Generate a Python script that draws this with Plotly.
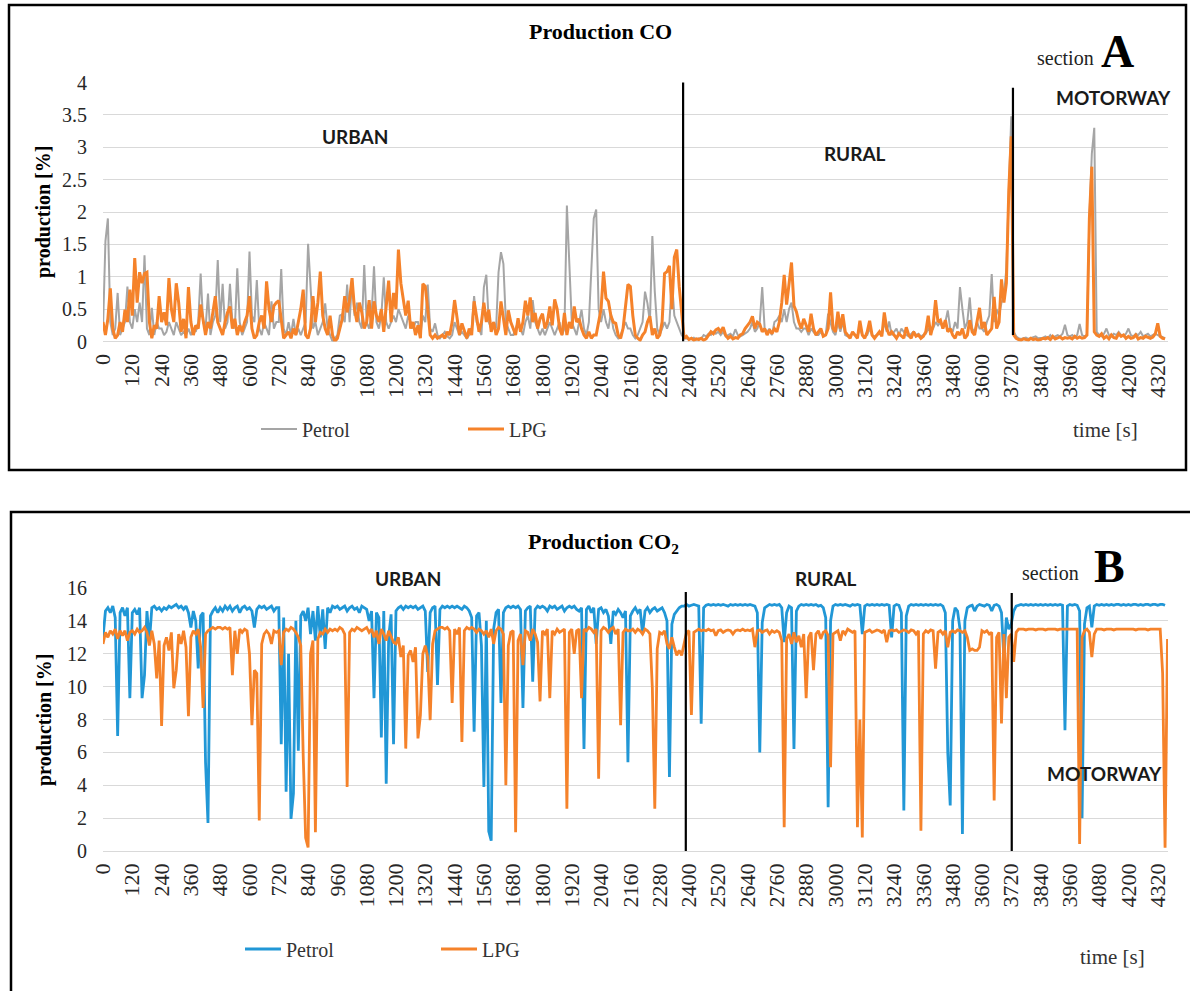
import plotly.graph_objects as go

step_s = 10

co_petrol = [
    0.2, 1.55, 1.9, 0.3, 0.1, 0.2, 0.75, 0.1, 0.2, 0.3, 0.85, 0.3,
    0.2, 0.5, 0.3, 0.6, 0.3, 1.33, 0.2, 0.1, 0.52, 0.1, 0.3, 0.2,
    0.2, 0.1, 0.15, 0.3, 0.2, 0.1, 0.3, 0.2, 0.1, 0.15, 0.1, 0.2,
    0.1, 0.2, 0.15, 0.3, 1.05, 0.3, 0.2, 0.74, 0.1, 0.3, 0.4, 1.26,
    0.3, 0.89, 0.2, 0.3, 0.89, 0.3, 0.2, 1.13, 0.3, 0.1, 0.2, 0.3,
    1.39, 0.4, 0.3, 0.95, 0.2, 0.1, 0.3, 0.2, 0.1, 0.62, 0.2, 0.3,
    0.3, 1.12, 0.2, 0.1, 0.3, 0.1, 0.35, 0.1, 0.2, 0.1, 0.2, 0.3,
    1.51, 0.91, 0.2, 0.3, 0.1, 0.2, 0.3, 0.59, 0.2, 0.1, 0.0, 0.05,
    0.1, 0.4, 0.42, 0.3, 0.88, 0.3, 0.98, 0.4, 0.6, 0.3, 0.2, 1.18,
    0.3, 0.2, 0.4, 1.16, 0.3, 0.2, 0.4, 0.99, 0.3, 0.2, 0.3, 0.4,
    0.3, 0.5, 0.4, 0.3, 0.2, 0.4, 0.3, 0.2, 0.3, 0.3, 0.1, 0.4,
    0.3, 0.88, 0.2, 0.15, 0.28, 0.1, 0.05, 0.1, 0.15, 0.08, 0.05, 0.1,
    0.3, 0.2, 0.1, 0.15, 0.1, 0.05, 0.1, 0.2, 0.7, 0.3, 0.2, 0.1,
    0.84, 1.03, 0.3, 0.2, 0.3, 0.2, 1.07, 1.38, 1.2, 0.3, 0.2, 0.1,
    0.1, 0.2, 0.3, 0.2, 0.1, 0.3, 0.4, 0.2, 0.64, 0.3, 0.2, 0.1,
    0.2, 0.1, 0.2, 0.3, 0.2, 0.1, 0.2, 0.3, 0.1, 0.2, 2.1, 1.08,
    0.3, 0.2, 0.1, 0.3, 0.49, 0.2, 0.1, 0.3, 1.03, 1.9, 2.04, 0.5,
    0.3, 0.5, 0.3, 0.2, 0.44, 0.2, 0.1, 0.05, 0.1, 0.2, 0.3, 0.2,
    0.2, 0.1, 0.05, 0.1, 0.2, 0.3, 0.77, 0.59, 0.3, 1.63, 0.77, 0.2,
    0.1, 0.2, 0.3, 0.2, 0.3, 0.95, 0.4, 0.3, 0.2, 0.1, 0.05, 0.05,
    0.05, 0.04, 0.06, 0.03, 0.05, 0.04, 0.1, 0.08, 0.12, 0.1, 0.15, 0.12,
    0.15, 0.1, 0.15, 0.08, 0.1, 0.12, 0.08, 0.19, 0.1, 0.08, 0.1, 0.12,
    0.15, 0.2, 0.3, 0.15, 0.2, 0.3, 0.84, 0.2, 0.15, 0.2, 0.1, 0.3,
    0.33, 0.4, 0.3, 0.5, 0.3, 0.5, 0.6, 0.3, 0.2, 0.2, 0.15, 0.2,
    0.2, 0.1, 0.2, 0.15, 0.1, 0.1, 0.15, 0.1, 0.1, 0.43, 0.3, 0.15,
    0.1, 0.3, 0.15, 0.3, 0.1, 0.08, 0.1, 0.12, 0.1, 0.08, 0.2, 0.1,
    0.08, 0.1, 0.2, 0.1, 0.08, 0.1, 0.12, 0.1, 0.3, 0.15, 0.31, 0.1,
    0.15, 0.2, 0.1, 0.2, 0.15, 0.1, 0.08, 0.12, 0.15, 0.1, 0.12, 0.08,
    0.1, 0.12, 0.2, 0.15, 0.2, 0.3, 0.25, 0.3, 0.2, 0.3, 0.48, 0.2,
    0.15, 0.3, 0.2, 0.84, 0.5, 0.2, 0.3, 0.68, 0.2, 0.15, 0.3, 0.2,
    0.2, 0.15, 0.3, 0.4, 1.04, 0.3, 0.5, 0.4, 0.6, 0.7, 1.13, 2.5,
    3.48, 0.15, 0.08, 0.05, 0.04, 0.05, 0.06, 0.04, 0.05, 0.06, 0.08, 0.05,
    0.05, 0.06, 0.08, 0.05, 0.1, 0.06, 0.08, 0.1, 0.08, 0.12, 0.26, 0.1,
    0.08, 0.1, 0.06, 0.1, 0.27, 0.1, 0.08, 0.1, 1.9, 2.9, 3.3, 0.15,
    0.1, 0.08, 0.12, 0.2, 0.1, 0.08, 0.12, 0.1, 0.15, 0.1, 0.08, 0.12,
    0.2, 0.1, 0.08, 0.12, 0.1, 0.15, 0.08, 0.1, 0.12, 0.08, 0.1, 0.12,
    0.1, 0.08, 0.06, 0.05,
]

co_lpg = [
    0.3, 0.1, 0.35, 0.82, 0.2, 0.05, 0.1, 0.3, 0.15, 0.49, 0.3, 0.8,
    0.4, 1.29, 0.6, 1.07, 0.9, 1.05, 1.07, 0.3, 0.05, 0.25, 0.2, 0.7,
    0.3, 0.45, 0.25, 0.98, 0.5, 0.3, 0.9, 0.6, 0.15, 0.35, 0.05, 0.84,
    0.3, 0.1, 0.25, 0.2, 0.57, 0.35, 0.1, 0.3, 0.2, 0.45, 0.7, 0.3,
    0.2, 0.1, 0.3, 0.45, 0.54, 0.2, 0.35, 0.1, 0.25, 0.15, 0.3, 0.4,
    0.7, 0.2, 0.05, 0.1, 0.3, 0.4, 0.2, 0.93, 0.5, 0.3, 0.55, 0.6,
    0.63, 0.3, 0.05, 0.1, 0.15, 0.05, 0.2, 0.1, 0.3, 0.5, 0.8, 0.1,
    0.05, 0.2, 0.7, 0.3, 0.6, 1.08, 0.4, 0.2, 0.1, 0.4, 0.1, 0.0,
    0.05, 0.2, 0.35, 0.7, 0.45, 0.65, 0.98, 0.5, 0.3, 0.6, 0.45, 0.2,
    0.3, 0.64, 0.2, 0.62, 0.4, 0.3, 0.5, 0.15, 0.6, 0.94, 0.3, 0.75,
    0.5, 1.42, 0.9, 0.68, 0.4, 0.63, 0.2, 0.3, 0.1, 0.25, 0.05, 0.89,
    0.85, 0.5, 0.1, 0.05, 0.1, 0.05, 0.08, 0.1, 0.05, 0.15, 0.1, 0.3,
    0.64, 0.4, 0.1, 0.28, 0.15, 0.05, 0.2, 0.1, 0.62, 0.35, 0.15, 0.3,
    0.6, 0.3, 0.49, 0.15, 0.3, 0.1, 0.2, 0.62, 0.35, 0.1, 0.48, 0.3,
    0.2, 0.1, 0.36, 0.15, 0.3, 0.63, 0.4, 0.68, 0.3, 0.44, 0.2, 0.35,
    0.43, 0.2, 0.3, 0.54, 0.25, 0.65, 0.5, 0.2, 0.1, 0.44, 0.1, 0.3,
    0.2, 0.54, 0.3, 0.35, 0.2, 0.1, 0.05, 0.15, 0.05, 0.1, 0.1, 0.3,
    0.5, 1.08, 0.67, 0.62, 0.4, 0.3, 0.28, 0.1, 0.05, 0.2, 0.6, 0.88,
    0.85, 0.4, 0.1, 0.05, 0.02, 0.1, 0.15, 0.3, 0.39, 0.1, 0.2, 0.05,
    0.1, 0.3, 1.05, 1.08, 1.17, 0.5, 1.3, 1.42, 0.85, 0.5, 0.05, 0.08,
    0.03, 0.05, 0.02, 0.04, 0.03, 0.05, 0.02, 0.04, 0.1, 0.15, 0.12, 0.18,
    0.2, 0.15, 0.22, 0.1, 0.05, 0.08, 0.04, 0.06, 0.05, 0.1, 0.12, 0.2,
    0.25, 0.3, 0.39, 0.2, 0.3, 0.27, 0.15, 0.2, 0.1, 0.18, 0.12, 0.2,
    0.15, 0.3, 0.6, 1.03, 0.57, 0.94, 1.22, 0.55, 0.46, 0.3, 0.2, 0.35,
    0.25, 0.15, 0.43, 0.2, 0.1, 0.15, 0.2, 0.08, 0.1, 0.2, 0.76, 0.2,
    0.15, 0.46, 0.2, 0.42, 0.15, 0.1, 0.05, 0.15, 0.1, 0.05, 0.32, 0.1,
    0.05, 0.15, 0.32, 0.1, 0.05, 0.1, 0.15, 0.08, 0.45, 0.2, 0.1, 0.15,
    0.1, 0.05, 0.12, 0.08, 0.05, 0.22, 0.1, 0.05, 0.15, 0.08, 0.1, 0.05,
    0.08, 0.15, 0.4, 0.1, 0.25, 0.64, 0.3, 0.33, 0.2, 0.33, 0.15, 0.2,
    0.1, 0.05, 0.15, 0.1, 0.2, 0.05, 0.1, 0.33, 0.15, 0.1, 0.3, 0.52,
    0.2, 0.3, 0.1, 0.15, 0.2, 0.69, 0.2, 0.3, 0.96, 0.6, 0.9, 2.34,
    3.17, 0.1, 0.05, 0.03, 0.02, 0.04, 0.03, 0.02, 0.05, 0.03, 0.04, 0.02,
    0.03, 0.05, 0.04, 0.06, 0.03, 0.08, 0.04, 0.05, 0.07, 0.04, 0.06, 0.05,
    0.06, 0.04, 0.08, 0.05, 0.07, 0.05, 0.06, 0.1, 1.9, 2.7, 0.15, 0.1,
    0.08, 0.12, 0.05, 0.08, 0.04, 0.1, 0.06, 0.05, 0.12, 0.08, 0.1, 0.05,
    0.08, 0.05, 0.06, 0.1, 0.04, 0.06, 0.05, 0.08, 0.06, 0.05, 0.07, 0.12,
    0.28, 0.08, 0.05, 0.04,
]

co2_petrol = [
    13.0, 14.6, 14.8, 14.5, 14.9, 14.2, 7.0, 14.5, 14.8, 14.3, 14.8, 9.3,
    14.5, 14.7, 14.4, 14.8, 9.3, 10.7, 14.6, 12.7, 14.8, 14.9, 14.7, 14.8,
    14.6, 14.8, 14.7, 14.9, 14.8, 14.9, 15.0, 14.8, 14.9, 14.7, 14.9, 14.5,
    13.6, 14.6, 14.0, 11.1, 14.3, 14.5, 5.4, 1.7, 14.3, 14.6, 14.8, 14.5,
    14.8, 14.6, 14.9, 14.7, 14.9, 14.6, 14.8, 14.9, 14.5, 14.8, 14.9, 14.7,
    14.8, 14.6, 13.6, 14.7, 14.9, 14.8, 14.9, 14.7, 14.8, 14.9, 14.6, 14.8,
    14.8, 6.5, 14.2, 3.6, 12.0, 1.95, 3.5, 14.0, 6.1, 14.3, 14.6, 14.0,
    14.8, 13.2, 14.6, 12.8, 14.9, 13.0, 14.7, 12.3, 14.8, 14.5, 14.9, 14.8,
    14.9, 14.7, 14.8, 14.9, 14.6, 14.8, 14.9, 14.7, 14.8, 14.5, 14.9, 14.8,
    14.7, 14.0, 14.6, 9.3, 14.5, 14.2, 6.9, 14.6, 4.1, 13.0, 14.4, 6.5,
    14.6, 14.8, 14.9, 14.7, 14.9, 14.8, 14.9, 14.8, 14.9, 14.7, 14.8, 14.9,
    14.6, 10.9, 14.5, 14.8, 14.9, 10.1, 14.7, 14.9, 14.8, 14.9, 14.8, 14.9,
    14.8, 14.9, 14.8, 14.7, 14.9, 14.8, 14.6, 14.2, 7.25, 14.3, 14.5, 12.5,
    3.9, 14.0, 1.2, 0.63, 13.5, 14.5, 14.7, 9.0, 14.5, 14.8, 14.9, 14.8,
    14.9, 14.8, 14.9, 14.7, 8.7, 14.6, 14.8, 14.9, 10.3, 14.7, 14.9, 14.8,
    14.9, 14.8, 14.6, 14.9, 14.8, 14.9, 14.7, 14.8, 14.9, 14.6, 14.8, 14.9,
    14.8, 14.9, 14.7, 14.6, 14.8, 6.2, 14.7, 14.9, 14.5, 14.8, 12.6, 14.7,
    14.8, 14.5, 14.7, 14.3, 12.6, 14.6, 14.4, 14.7, 14.5, 14.2, 14.6, 5.4,
    14.3, 14.6, 14.8, 14.5, 14.7, 13.2, 14.6, 14.8, 14.5, 14.7, 14.8, 14.6,
    14.7, 14.8, 14.5, 14.0, 4.5, 13.8, 14.4, 14.6, 14.8, 14.9, 14.9, 15.0,
    14.9, 14.95, 15.0, 14.95, 14.9, 7.75, 14.8, 14.95, 15.0, 14.95, 15.0, 14.95,
    15.0, 14.95, 15.0, 14.95, 14.9, 15.0, 14.95, 15.0, 14.95, 15.0, 14.95, 15.0,
    14.95, 15.0, 14.95, 14.9, 14.5, 6.0, 13.9, 14.8, 14.9, 15.0, 14.95, 15.0,
    14.95, 15.0, 14.8, 12.7, 14.5, 14.9, 14.8, 6.2, 14.6, 14.9, 15.0, 14.95,
    15.0, 14.95, 15.0, 14.95, 15.0, 14.9, 14.95, 14.8, 14.2, 2.67, 14.0, 14.9,
    15.0, 14.95, 15.0, 14.95, 15.0, 14.95, 14.9, 15.0, 14.95, 15.0, 14.95, 13.2,
    14.9, 15.0, 14.95, 15.0, 14.95, 15.0, 14.95, 15.0, 14.95, 15.0, 14.95, 13.0,
    14.9, 15.0, 14.95, 14.5, 2.46, 14.3, 14.9, 15.0, 14.95, 15.0, 14.95, 15.0,
    14.95, 15.0, 14.95, 15.0, 14.95, 15.0, 14.95, 15.0, 14.9, 14.5, 6.0, 2.77,
    14.0, 14.8, 14.6, 13.5, 1.04, 14.0, 14.8, 14.9, 14.95, 14.6, 14.9, 15.0,
    14.95, 14.9, 15.0, 14.95, 14.6, 14.95, 15.0, 14.9, 14.5, 11.7, 14.2, 13.5,
    13.8, 14.6, 14.9, 14.95, 15.0, 14.95, 15.0, 14.95, 15.0, 14.95, 15.0, 14.95,
    15.0, 14.95, 15.0, 14.95, 15.0, 14.95, 15.0, 14.95, 15.0, 14.95, 7.35, 14.9,
    15.0, 14.95, 15.0, 14.95, 14.6, 2.0, 13.8, 14.8, 14.9, 13.6, 14.9, 15.0,
    14.95, 15.0, 14.95, 15.0, 14.95, 15.0, 14.95, 15.0, 15.0, 14.95, 15.0, 14.95,
    15.0, 14.95, 15.0, 15.0, 14.95, 15.0, 14.95, 15.0, 15.0, 14.95, 15.0, 15.0,
    14.95, 15.0, 15.0, 14.95,
]

co2_lpg = [
    12.6, 13.3, 13.0, 13.4, 13.2, 13.5, 12.9, 13.4, 13.1, 13.4, 12.8, 13.3,
    13.4, 13.2, 13.5, 13.3, 13.4, 13.6, 13.3, 12.5, 13.4, 12.6, 10.5, 12.8,
    7.6, 12.5, 13.0, 12.2, 13.3, 9.9, 11.0, 13.2, 12.6, 13.4, 12.4, 8.2,
    13.0, 13.4, 13.2, 13.5, 12.4, 8.7, 13.2, 13.4, 13.5, 13.6, 13.5, 13.6,
    13.6, 13.5, 13.6, 13.5, 13.6, 10.7, 13.4, 12.0, 13.5, 13.3, 13.5, 13.4,
    12.0, 7.65, 11.0, 10.8, 1.85, 12.6, 13.2, 13.4, 13.2, 12.6, 13.4, 13.3,
    13.4, 11.3, 13.3, 13.5, 13.4, 13.6, 13.5, 13.3, 13.0, 12.5, 5.8, 0.8,
    0.22, 12.0, 12.8, 1.14, 12.9, 13.3, 13.2, 13.5, 13.3, 13.5, 13.4, 13.5,
    13.4, 13.6, 13.5, 13.2, 3.9, 13.3, 13.5, 13.4, 13.6, 13.5, 13.4, 13.5,
    13.6, 13.3, 13.5, 13.0, 13.4, 12.6, 13.5, 13.2, 12.8, 13.4, 13.1, 12.7,
    12.6, 13.0, 11.8, 12.5, 6.23, 11.9, 12.2, 11.5, 12.4, 6.85, 8.27, 12.0,
    12.5, 11.8, 7.96, 12.6, 13.4, 13.5, 13.6, 13.6, 13.5, 13.6, 13.4, 9.0,
    13.5, 13.2, 13.6, 6.64, 13.4, 13.6, 13.5, 13.6, 13.5, 13.3, 13.5, 13.4,
    13.2, 13.4, 13.0, 13.5, 12.6, 13.4, 13.6, 13.5, 13.2, 4.0, 12.5, 13.3,
    13.4, 1.14, 12.8, 13.2, 11.3, 13.4, 13.3, 12.8, 13.5, 13.2, 12.7, 9.1,
    13.4, 13.2, 13.5, 9.3, 13.4, 13.2, 13.5, 13.3, 13.4, 13.5, 2.57, 13.3,
    13.5, 12.0, 13.4, 13.5, 9.3, 13.5, 13.4, 13.6, 13.5, 13.3, 13.5, 4.4,
    13.4, 13.6, 13.5, 13.3, 13.5, 13.6, 13.2, 13.5, 7.66, 13.3, 13.5, 13.4,
    13.4, 13.5, 13.3, 13.5, 13.4, 13.2, 13.5, 13.4, 13.2, 9.9, 2.57, 12.3,
    13.3, 13.2, 13.4, 12.6, 12.3, 13.0, 12.4, 11.9, 12.2, 11.9, 12.6, 13.3,
    13.4, 8.27, 13.3, 13.4, 13.5, 13.4, 13.45, 13.4, 13.5, 13.4, 13.45, 13.1,
    13.4, 13.45, 13.3, 13.4, 13.45, 13.4, 13.2, 13.4, 13.45, 13.4, 13.5, 13.4,
    13.45, 13.4, 13.5, 12.4, 13.4, 13.45, 13.3, 13.4, 13.45, 13.2, 13.4, 13.3,
    13.4, 13.3, 12.8, 1.45, 12.9, 13.2, 12.6, 13.3, 12.7, 13.1, 12.4, 13.2,
    9.3, 13.0, 13.3, 11.0, 13.2, 13.4, 12.9, 13.3, 13.4, 13.1, 5.1, 13.2,
    13.3, 13.4, 12.8, 13.4, 13.2, 13.5, 13.4, 13.3, 13.4, 1.45, 8.0, 0.83,
    13.3, 13.4, 13.45, 13.3, 13.4, 13.45, 13.4, 13.3, 13.45, 12.7, 13.4, 13.45,
    13.4, 13.45, 13.3, 13.4, 13.45, 13.4, 13.3, 13.45, 13.4, 13.2, 13.4, 1.24,
    13.2, 13.4, 13.3, 13.45, 13.4, 11.1, 13.3, 13.4, 13.2, 13.4, 12.4, 13.3,
    13.4, 13.3, 13.45, 13.4, 13.3, 13.4, 13.0, 12.2, 12.3, 12.2, 12.2, 12.4,
    13.4, 13.3, 13.4, 13.2, 13.3, 3.07, 13.0, 13.3, 7.76, 13.2, 9.3, 13.0,
    13.2, 11.5, 13.3, 13.5, 13.5, 13.5, 13.45, 13.5, 13.5, 13.5, 13.45, 13.5,
    13.5, 13.5, 13.45, 13.5, 13.5, 13.5, 13.5, 13.45, 13.5, 13.5, 13.5, 13.5,
    13.5, 13.5, 13.5, 13.5, 0.43, 13.0, 13.4, 13.5, 13.3, 11.8, 13.2, 13.5,
    13.5, 13.5, 13.45, 13.5, 13.5, 13.5, 13.45, 13.5, 13.5, 13.5, 13.5, 13.5,
    13.5, 13.5, 13.5, 13.45, 13.5, 13.5, 13.5, 13.5, 13.45, 13.5, 13.5, 13.5,
    13.5, 13.5, 10.8, 0.2, 12.9,
]

x_tick_values = list(range(0, 4321, 120))
co_section_bounds = [2376, 3727]
co2_section_bounds = [2387, 3722]

# ---------------- figure ----------------
W, H = 1190, 991
GRAY, ORANGE, BLUE = "#A5A5A5", "#F5822A", "#2197D6"
SERIF = "Liberation Serif, Times New Roman, serif"
SANS = "Lato, Liberation Sans, sans-serif"


def px(x):
    return x / W


def py(y):
    return 1 - y / H


def times(series):
    return [i * step_s for i in range(len(series))]


fig = go.Figure()
fig.add_trace(go.Scatter(x=times(co_petrol), y=co_petrol, name="Petrol", mode="lines",
                         line=dict(color=GRAY, width=2), xaxis="x", yaxis="y", legend="legend"))
fig.add_trace(go.Scatter(x=times(co_lpg), y=co_lpg, name="LPG", mode="lines",
                         line=dict(color=ORANGE, width=3), xaxis="x", yaxis="y", legend="legend"))
fig.add_trace(go.Scatter(x=times(co2_petrol), y=co2_petrol, name="Petrol", mode="lines",
                         line=dict(color=BLUE, width=2.8), xaxis="x2", yaxis="y2", legend="legend2"))
fig.add_trace(go.Scatter(x=times(co2_lpg), y=co2_lpg, name="LPG", mode="lines",
                         line=dict(color=ORANGE, width=2.8), xaxis="x2", yaxis="y2", legend="legend2"))

x_dom = [px(103), px(1168)]
x_common = dict(domain=x_dom, range=[0, 4362], tickvals=x_tick_values, tickangle=-90,
                tickfont=dict(family=SERIF, size=22, color="#262626"), showgrid=False,
                showline=False, zeroline=False, ticks="", ticklabelstandoff=7, fixedrange=True,
                automargin=False)
y_common = dict(gridcolor="#D9D9D9", gridwidth=1.3, zeroline=True, zerolinecolor="#D9D9D9",
                zerolinewidth=1.3, showline=False, ticks="",
                tickfont=dict(family=SERIF, size=20, color="#262626"), ticklabelstandoff=15,
                fixedrange=True, automargin=False)

fig.update_layout(
    width=W, height=H, margin=dict(l=0, r=0, t=0, b=0, pad=0, autoexpand=False),
    paper_bgcolor="white", plot_bgcolor="white",
    xaxis=dict(anchor="y", **x_common),
    yaxis=dict(anchor="x", domain=[py(341.5), py(82.5)], range=[0, 4], dtick=0.5, **y_common),
    xaxis2=dict(anchor="y2", **x_common),
    yaxis2=dict(anchor="x2", domain=[py(851), py(588)], range=[0, 16], dtick=2, **y_common),
    legend=dict(orientation="h", x=px(256), y=py(429), xanchor="left", yanchor="middle",
                font=dict(family=SERIF, size=20, color="#333333"), bgcolor="rgba(0,0,0,0)",
                entrywidth=156, entrywidthmode="pixels", itemwidth=36),
    legend2=dict(orientation="h", x=px(240), y=py(949), xanchor="left", yanchor="middle",
                 font=dict(family=SERIF, size=20, color="#333333"), bgcolor="rgba(0,0,0,0)",
                 entrywidth=145, entrywidthmode="pixels", itemwidth=36),
)

shapes = [
    dict(type="rect", xref="paper", yref="paper", x0=px(9), x1=px(1186), y0=py(470), y1=py(5),
         line=dict(color="black", width=2.5)),
    dict(type="rect", xref="paper", yref="paper", x0=px(11), x1=px(1200), y0=py(1000), y1=py(512),
         line=dict(color="black", width=2.5)),
    dict(type="line", xref="x", yref="y", x0=co_section_bounds[0], x1=co_section_bounds[0],
         y0=0, y1=4.05, line=dict(color="black", width=2.2)),
    dict(type="line", xref="x", yref="y", x0=co_section_bounds[1], x1=co_section_bounds[1],
         y0=0.1, y1=3.92, line=dict(color="black", width=2.2)),
    dict(type="line", xref="x2", yref="y2", x0=co2_section_bounds[0], x1=co2_section_bounds[0],
         y0=0, y1=15.75, line=dict(color="black", width=2.2)),
    dict(type="line", xref="x2", yref="y2", x0=co2_section_bounds[1], x1=co2_section_bounds[1],
         y0=0, y1=15.7, line=dict(color="black", width=2.2)),
]
fig.update_layout(shapes=shapes)


def ann(text, x, y, size, family=SERIF, bold=False, xanchor="center", yanchor="middle",
        angle=0, color="black"):
    t = f"<b>{text}</b>" if bold else text
    return dict(text=t, x=px(x), y=py(y), xref="paper", yref="paper", showarrow=False,
                xanchor=xanchor, yanchor=yanchor, textangle=angle,
                font=dict(family=family, size=size, color=color))


annotations = [
    ann("Production CO", 600, 31, 22, bold=True),
    ann("section", 1035, 58, 20, xanchor="left", color="#222222"),
    ann("A", 1099, 51, 46, bold=True, xanchor="left"),
    ann("URBAN", 355, 136, 19, family=SANS, bold=True, color="#1a1a1a"),
    ann("RURAL", 855, 153, 19, family=SANS, bold=True, color="#1a1a1a"),
    ann("MOTORWAY", 1113, 98, 19, family=SANS, bold=True, color="#1a1a1a"),
    ann("time [s]", 1105, 430, 21, color="#333333"),
    ann("production [%]", 44, 212, 20, bold=True, angle=-90),
    ann("Production CO<sub>2</sub>", 603, 543, 22, bold=True),
    ann("section", 1020, 573, 20, xanchor="left", color="#222222"),
    ann("B", 1092, 566, 46, bold=True, xanchor="left"),
    ann("URBAN", 408, 578, 19, family=SANS, bold=True, color="#1a1a1a"),
    ann("RURAL", 826, 578, 19, family=SANS, bold=True, color="#1a1a1a"),
    ann("MOTORWAY", 1104, 773, 19, family=SANS, bold=True, color="#1a1a1a"),
    ann("time [s]", 1112, 957, 21, color="#333333"),
    ann("production [%]", 44, 720, 20, bold=True, angle=-90),
]
fig.update_layout(annotations=annotations)

# remove the browser's default 8px page margin so the figure sits at the window origin
fig.write_html("out.html",
               config={"displayModeBar": False},
               post_script="document.body.style.margin='0';document.body.style.overflow='hidden';")
